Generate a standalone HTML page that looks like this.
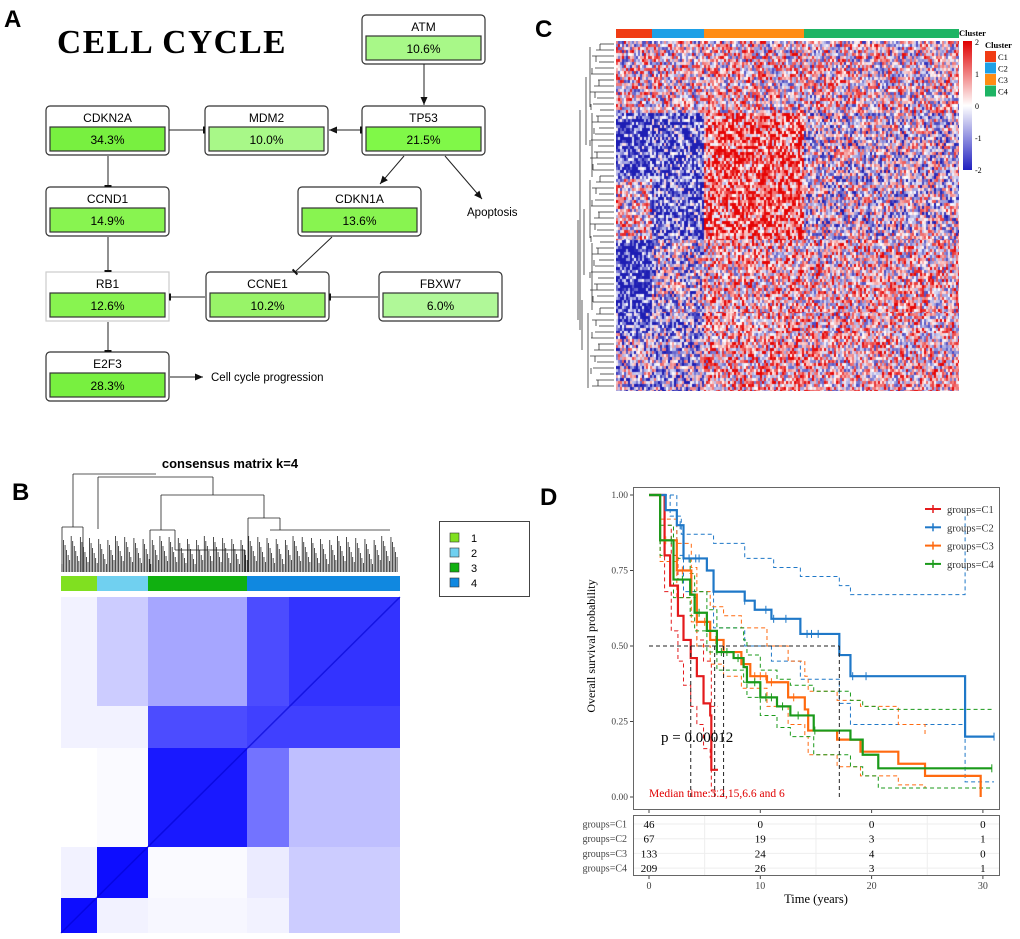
<!DOCTYPE html>
<html><head><meta charset="utf-8"><style>
body{margin:0;background:#fff;width:1020px;height:939px;overflow:hidden;position:relative;font-family:"Liberation Sans",sans-serif}
svg{position:absolute;left:0;top:0}
canvas{position:absolute}
</style></head><body>
<svg id="s" width="1020" height="939"></svg>
<canvas id="hc" width="343" height="350" style="left:616px;top:41px"></canvas>
<script>
// ===== Panel C heatmap data =====
const hmRowBreaks=[41,113,179,240,313,333,391];
const hmClusters=["C1","C2","C3","C4"];
const hmColBreaks=[616,652,704,804,959];
const hmMeans=[[0.1,0.1,0.2,0.1],[-1.6,-1.3,1.2,-0.2],[0.1,-1.3,1.2,-0.2],[-1.8,-0.3,0.4,0.3],[-1.4,-0.8,0.5,0.3],[-0.4,-0.6,0.5,0.3]];
// ===== Panel B consensus data =====
const cmBreaks=[61,97,148,247,289,400];
const cmRowBreaks=[597,706,748,847,898,933];
const cmVals=[[0.05,0.2,0.35,0.7,0.8],[0.05,0.05,0.7,0.75,0.75],[0,0.02,0.9,0.55,0.25],[0.05,0.95,0.02,0.08,0.2],[0.95,0.05,0.03,0.05,0.2]];
// ===== Panel D KM data =====
const kmGroups=["C1","C2","C3","C4"];
const kmColors=["#e41a1c","#1f78c8","#ff6a10","#1a9a1a"];
const survC1=[[0,1],[1.4,0.8],[1.9,0.7],[2.6,0.6],[3.1,0.52],[3.75,0.46],[4.3,0.4],[4.9,0.31],[5.5,0.27],[5.6,0.09],[6.2,0.09]];
const survC2=[[0,1],[1.5,0.95],[2.5,0.9],[3.1,0.79],[5.2,0.75],[5.8,0.68],[8.6,0.65],[9.5,0.62],[11,0.59],[13.6,0.54],[17.1,0.47],[18.1,0.4],[28.4,0.2],[31,0.2]];
const survC3=[[0,1],[1,0.85],[2.5,0.75],[3.8,0.67],[4.3,0.58],[5.5,0.52],[6.7,0.48],[8.3,0.44],[9.1,0.4],[10.6,0.38],[12.5,0.33],[14,0.29],[14.3,0.22],[16.9,0.19],[19,0.15],[22.4,0.11],[24.8,0.07],[29.8,0],[29.8,0]];
const survC4=[[0,1],[1,0.85],[2.2,0.72],[3.7,0.67],[4.1,0.61],[5.2,0.55],[6.1,0.48],[7.6,0.46],[8.5,0.43],[8.8,0.38],[10,0.33],[11.5,0.3],[12.7,0.27],[14.8,0.22],[18.1,0.19],[19.2,0.14],[20.6,0.095],[30.8,0.095]];
const upC1=[[0,1],[1.4,0.9],[2,0.8],[2.6,0.72],[3.1,0.66],[4.3,0.52],[4.9,0.45],[5.6,0.3],[6.2,0.3]];
const loC1=[[0,1],[1.4,0.68],[2,0.55],[2.6,0.45],[3.1,0.37],[3.75,0.3],[4.3,0.24],[4.9,0.16],[5.5,0.13],[5.6,0.02],[6.2,0.02]];
const upC2=[[0,1],[1.9,0.93],[2.9,0.87],[5.8,0.84],[8.6,0.79],[11.2,0.76],[13.6,0.73],[17.1,0.7],[18.1,0.67],[28.4,0.67],[28.4,0.95]];
const loC2=[[0,1],[2.5,0.8],[3.1,0.68],[5.8,0.56],[8.6,0.5],[11,0.45],[13.6,0.39],[17.1,0.31],[18.1,0.24],[28.4,0.05],[31,0.05]];
const upC3=[[0,1],[1,0.92],[2.5,0.84],[3.8,0.76],[4.3,0.68],[5.5,0.63],[6.7,0.6],[8.3,0.56],[10.6,0.5],[12.5,0.45],[14,0.4],[14.3,0.35],[16.9,0.32],[19,0.3],[22.4,0.24],[24.8,0.2]];
const loC3=[[0,1],[1,0.78],[2.5,0.66],[3.8,0.58],[4.3,0.5],[5.5,0.44],[6.7,0.4],[8.3,0.36],[10.6,0.3],[12.5,0.24],[14,0.2],[14.3,0.14],[16.9,0.1],[19,0.07],[22.4,0.04],[24.8,0.03]];
const upC4=[[0,1],[1,0.9],[2.2,0.79],[3.7,0.74],[4.1,0.68],[5.2,0.62],[6.1,0.56],[8.5,0.52],[8.8,0.47],[10,0.42],[11.5,0.39],[12.7,0.37],[14.8,0.35],[18.1,0.32],[19.2,0.3],[20.6,0.29],[30.8,0.29]];
const loC4=[[0,1],[1,0.8],[2.2,0.66],[3.7,0.6],[4.1,0.55],[5.2,0.48],[6.1,0.42],[8.5,0.38],[8.8,0.33],[10,0.27],[11.5,0.23],[12.7,0.2],[14.8,0.14],[18.1,0.1],[19.2,0.07],[20.6,0.03],[30.8,0.03]];
const censorC2=[2.8,3.6,4.2,4.5,8.6,10.5,11.2,12.3,14.2,14.6,15.2,18.3,19.5,31];
const censorC4=[1,2,3,4.5,6.5,7,8,9.5,10.5,11,12,13.4,14.9,30.8];
const censorC3=[1.5,3,5,6,9.5,10,10.5,11,13];
const medians=[3.75,17.1,6.7,5.9];
const riskTimes=[0,10,20,30];
const riskC1=[46,0,0,0],riskC2=[67,19,3,1],riskC3=[133,24,4,0],riskC4=[209,26,3,1];
const yTicks=[0,0.25,0.5,0.75,1];
const yTickLabels=["0.00","0.25","0.50","0.75","1.00"];
</script>
<script>
const NS="http://www.w3.org/2000/svg";const S=document.getElementById('s');
function el(t,a,p){const e=document.createElementNS(NS,t);for(const k in a)e.setAttribute(k,a[k]);(p||S).appendChild(e);return e;}
function tx(x,y,s,a,p){const e=el('text',Object.assign({x:x,y:y},a),p);e.textContent=s;return e;}

// ===== Panel A =====
const gA=el('g',{});
let t=tx(4,27,"A",{'font-size':24,'font-weight':'bold'});
t=tx(57,53,"CELL CYCLE",{'font-size':33.5,'font-weight':'bold','font-family':'Liberation Serif,serif','letter-spacing':'1.5'});
const nodes=[["ATM","10.6%",362,15,"#a8f888"],["TP53","21.5%",362,106,"#80f848"],["MDM2","10.0%",205,106,"#a8f888"],["CDKN2A","34.3%",46,106,"#78f040"],["CCND1","14.9%",46,187,"#88f450"],["CDKN1A","13.6%",298,187,"#88f450"],["RB1","12.6%",46,272,"#88f450"],["CCNE1","10.2%",206,272,"#98f468"],["FBXW7","6.0%",379,272,"#b0f898"],["E2F3","28.3%",46,352,"#78f040"]];
nodes.forEach(n=>{const g=el('g',{},gA);
 el('rect',{x:n[2],y:n[3],width:123,height:49,rx:n[0]=="RB1"?0:4,fill:'#fff',stroke:n[0]=="RB1"?'#ccc':'#333','stroke-width':1.2},g);
 el('rect',{x:n[2]+4,y:n[3]+21,width:115,height:24,fill:n[4],stroke:'#333','stroke-width':1.2},g);
 tx(n[2]+61.5,n[3]+16,n[0],{'font-size':12,'text-anchor':'middle'},g);
 tx(n[2]+61.5,n[3]+38,n[1],{'font-size':12,'text-anchor':'middle'},g);});
function arrow(x1,y1,x2,y2,type){el('line',{x1:x1,y1:y1,x2:x2,y2:y2,stroke:'#222','stroke-width':1},gA);
 const a=Math.atan2(y2-y1,x2-x1);
 if(type=='a'){const p=[[x2,y2],[x2-8*Math.cos(a)+3.5*Math.sin(a),y2-8*Math.sin(a)-3.5*Math.cos(a)],[x2-8*Math.cos(a)-3.5*Math.sin(a),y2-8*Math.sin(a)+3.5*Math.cos(a)]];el('polygon',{points:p.map(q=>q.join(',')).join(' '),fill:'#111'},gA);}
 else{el('line',{x1:x2+3.5*Math.sin(a),y1:y2-3.5*Math.cos(a),x2:x2-3.5*Math.sin(a),y2:y2+3.5*Math.cos(a),stroke:'#111','stroke-width':2},gA);}}
arrow(424,64,424,105,'a');arrow(169,130,204,130,'t');arrow(361,130,329,130,'a');arrow(329,130,361,130,'t');
arrow(404,156,380,184,'a');arrow(445,156,482,199,'a');arrow(108,156,108,186,'t');arrow(108,237,108,271,'t');
arrow(332,237,295,272,'t');arrow(205,297,170,297,'t');arrow(378,297,330,297,'t');arrow(108,322,108,351,'t');arrow(170,377,203,377,'a');
tx(467,216,"Apoptosis",{'font-size':11.5},gA);tx(211,381,"Cell cycle progression",{'font-size':11.5},gA);

// ===== Panel C =====
t=tx(535,37,"C",{'font-size':24,'font-weight':'bold'});
const cc=["#f03c14","#1ea0e6","#ff8c14","#1eb464"];
hmClusters.forEach((c,i)=>{const r=el('rect',{x:hmColBreaks[i],y:29,width:hmColBreaks[i+1]-hmColBreaks[i],height:9,fill:cc[i]});});
const dg=el('g',{stroke:'#333','stroke-width':0.8,fill:'none'});
for(let i=0;i<58;i++){const y=44+i*6;const h=(i*37)%11;el('line',{x1:614,y1:y,x2:600-h,y2:y},dg);}
for(let i=0;i<29;i++){const y=44+i*12;const x=600-((i*37)%11);el('line',{x1:x,y1:y,x2:x,y2:y+6},dg);}
[[590,47,107],[592,113,177],[590,180,238],[592,243,310],[588,313,388],[586,77,145],[584,209,275],[582,300,350],[580,110,330],[578,220,320]].forEach(v=>el('line',{x1:v[0],y1:v[1],x2:v[0],y2:v[2]},dg));
const gr=el('linearGradient',{id:'hg',x1:0,y1:0,x2:0,y2:1},el('defs',{}));
[["0","#e00000"],["0.5","#ffffff"],["1","#2020c0"]].forEach(s=>el('stop',{offset:s[0],'stop-color':s[1]},gr));
const ck=el('g',{});
el('rect',{x:963,y:41,width:9,height:129,fill:'url(#hg)'},ck);
["2","1","0","-1","-2"].forEach((s,i)=>tx(975,45+i*32,s,{'font-size':8,'font-family':'Liberation Serif,serif'},ck));
tx(959,36,"Cluster",{'font-size':8.5,'font-weight':'bold','font-family':'Liberation Serif,serif'},ck);
const cl=el('g',{});
tx(985,48,"Cluster",{'font-size':8.5,'font-weight':'bold','font-family':'Liberation Serif,serif'},cl);
hmClusters.forEach((c,i)=>{el('rect',{x:985,y:51+i*11.5,width:11,height:11,fill:cc[i]},cl);tx(998,60+i*11.5,c,{'font-size':8.5,'font-family':'Liberation Serif,serif'},cl);});
(function(){const cv=document.getElementById('hc'),x=cv.getContext('2d');
function h(i,j){let n=(i*374761393+j*668265263)|0;n=(n^(n>>>13))*1274126177|0;return ((n^(n>>>16))>>>0)/4294967295;}
function col(v){v=Math.max(-2,Math.min(2,v));if(v>=0){const f=v/2;return `rgb(${255-25*f|0},${255-250*f|0},${255-250*f|0})`;}const f=-v/2;return `rgb(${255-225*f|0},${255-225*f|0},${255-75*f|0})`;}
for(let r=0;r<hmRowBreaks.length-1;r++)for(let y=hmRowBreaks[r];y<hmRowBreaks[r+1];y+=3)
 for(let c=0;c<4;c++)for(let xx=hmColBreaks[c];xx<hmColBreaks[c+1];xx+=2){
  const v=hmMeans[r][c]+(h(xx,y)-0.5)*3.8;x.fillStyle=col(v);x.fillRect(xx-616,y-41,2,3);}})();

// ===== Panel B =====
t=tx(12,500,"B",{'font-size':24,'font-weight':'bold'});
t=tx(230,468,"consensus matrix k=4",{'font-size':13,'font-weight':'bold','text-anchor':'middle'});
const bd=el('g',{stroke:'#222','stroke-width':0.8,fill:'none'});
[[73,474,156,474],[73,474,73,527],[98,477,213,477],[98,477,98,529],[213,477,213,495],[161,495,264,495],[161,495,161,530],[264,495,264,518],[62,527,83,527],[62,527,62,572],[83,527,83,572],[248,518,280,518],[248,518,248,572],[280,518,280,530],[270,530,390,530],[150,530,175,530],[150,530,150,572],[175,530,175,550],[175,550,245,550],[245,550,245,572]].forEach(v=>el('line',{x1:v[0],y1:v[1],x2:v[2],y2:v[3]},bd));
for(let i=0;i<220;i++){const xx=62+i*1.53;const hh=8+((i*53)%29);el('line',{x1:xx,y1:572,x2:xx,y2:572-hh},bd);}
const bc=["#80e020","#70d0f0","#10b010","#1088e0"];
for(let i=0;i<4;i++){const x0=cmBreaks[i],x1=i==3?cmBreaks[5]:cmBreaks[i+1];const r=el('rect',{x:x0,y:576,width:x1-x0,height:15,fill:bc[i]});}
const cm=el('g',{});
cmVals.forEach((row,r)=>row.forEach((v,c)=>{el('rect',{x:cmBreaks[c],y:cmRowBreaks[r],width:cmBreaks[c+1]-cmBreaks[c],height:cmRowBreaks[r+1]-cmRowBreaks[r],fill:'#0000ff','fill-opacity':v},cm);}));
el('line',{x1:61,y1:933,x2:400,y2:597,stroke:'#0000d0','stroke-width':1.5,'stroke-opacity':0.6},cm);
const lg=el('g',{});
el('rect',{x:439.5,y:521.5,width:90,height:75,fill:'#fff',stroke:'#444'},lg);
bc.forEach((c,i)=>{el('rect',{x:450,y:533+i*15,width:9,height:9,fill:c,stroke:'#333','stroke-width':0.6},lg);tx(471,542+i*15,String(i+1),{'font-size':11},lg);});

// ===== Panel D =====
t=tx(540,505,"D",{'font-size':24,'font-weight':'bold'});
const X=v=>649+v*11.13, Y=v=>797-v*302;
const F='Liberation Serif,serif';
const km=el('g',{});
el('rect',{x:633.5,y:487.5,width:366,height:322,fill:'#fff',stroke:'#666'},km);
yTicks.forEach((v,i)=>{el('line',{x1:630,y1:Y(v),x2:633,y2:Y(v),stroke:'#444'},km);tx(628,Y(v)+3,yTickLabels[i],{'font-size':9.5,'text-anchor':'end',fill:'#444','font-family':F},km);});
riskTimes.forEach(v=>el('line',{x1:X(v),y1:810,x2:X(v),y2:813,stroke:'#444'},km));
t=tx(595,646,"Overall survival probability",{'font-size':12,'text-anchor':'middle',transform:'rotate(-90 595 646)','font-family':F});
function stepPath(d){let p='M'+X(d[0][0])+','+Y(d[0][1]);for(let i=1;i<d.length;i++){p+='H'+X(d[i][0])+'V'+Y(d[i][1]);}return p;}
const md=el('g',{stroke:'#222','stroke-width':1,'stroke-dasharray':'4,3',fill:'none'});
el('line',{x1:X(0),y1:Y(0.5),x2:X(Math.max(...medians)),y2:Y(0.5)},md);
medians.forEach(m=>el('line',{x1:X(m),y1:Y(0.5),x2:X(m),y2:Y(0)},md));
const ups=[upC1,upC2,upC3,upC4],los=[loC1,loC2,loC3,loC4],sv=[survC1,survC2,survC3,survC4],cens=[[],censorC2,censorC3,censorC4];
kmGroups.forEach((g,i)=>{[ups[i],los[i]].forEach((d,k)=>{const p=el('path',{d:stepPath(d),fill:'none',stroke:kmColors[i],'stroke-width':1,'stroke-dasharray':'4,3'},km);});});
kmGroups.forEach((g,i)=>{const p=el('path',{d:stepPath(sv[i]),fill:'none',stroke:kmColors[i],'stroke-width':2.2},km);
 cens[i].forEach(tm=>{let s=sv[i][0][1];sv[i].forEach(q=>{if(q[0]<=tm)s=q[1];});el('line',{x1:X(tm),y1:Y(s)-4,x2:X(tm),y2:Y(s)+4,stroke:kmColors[i],'stroke-width':1},km);});});
t=tx(661,742,"p = 0.00012",{'font-size':15,'font-family':F});
t=tx(649,797,"Median time:3.2,15,6.6 and 6",{'font-size':11.5,fill:'#e00000','font-family':F});
kmGroups.forEach((g,i)=>{const le=el('g',{},km);
 const y=509+i*18.3;el('line',{x1:925,y1:y,x2:941,y2:y,stroke:kmColors[i],'stroke-width':2},le);el('line',{x1:933,y1:y-4,x2:933,y2:y+4,stroke:kmColors[i],'stroke-width':1.5},le);
 tx(947,y+4,'groups='+g,{'font-size':10.5,fill:'#333','font-family':F},le);});
const rt=el('g',{});
el('rect',{x:633.5,y:815.5,width:366,height:60,fill:'#fff',stroke:'#666'},rt);
[5,15,25].forEach(v=>el('line',{x1:X(v),y1:816,x2:X(v),y2:875,stroke:'#eee'},rt));
const risks=[riskC1,riskC2,riskC3,riskC4];
kmGroups.forEach((g,i)=>{const y=824+i*14.7;el('line',{x1:634,y1:y,x2:999,y2:y,stroke:'#eee'},rt);
 tx(627,y+3.5,'groups='+g,{'font-size':10,'text-anchor':'end',fill:'#444','font-family':F},rt);
 risks[i].forEach((n,j)=>tx(X(riskTimes[j]),y+4,String(n),{'font-size':11,'text-anchor':'middle','font-family':F},rt));});
riskTimes.forEach(v=>{el('line',{x1:X(v),y1:876,x2:X(v),y2:879,stroke:'#444'},rt);tx(X(v),889,String(v),{'font-size':10,'text-anchor':'middle',fill:'#444','font-family':F},rt);});
t=tx(816,903,"Time (years)",{'font-size':12.5,'text-anchor':'middle','font-family':F});
</script>
</body></html>
